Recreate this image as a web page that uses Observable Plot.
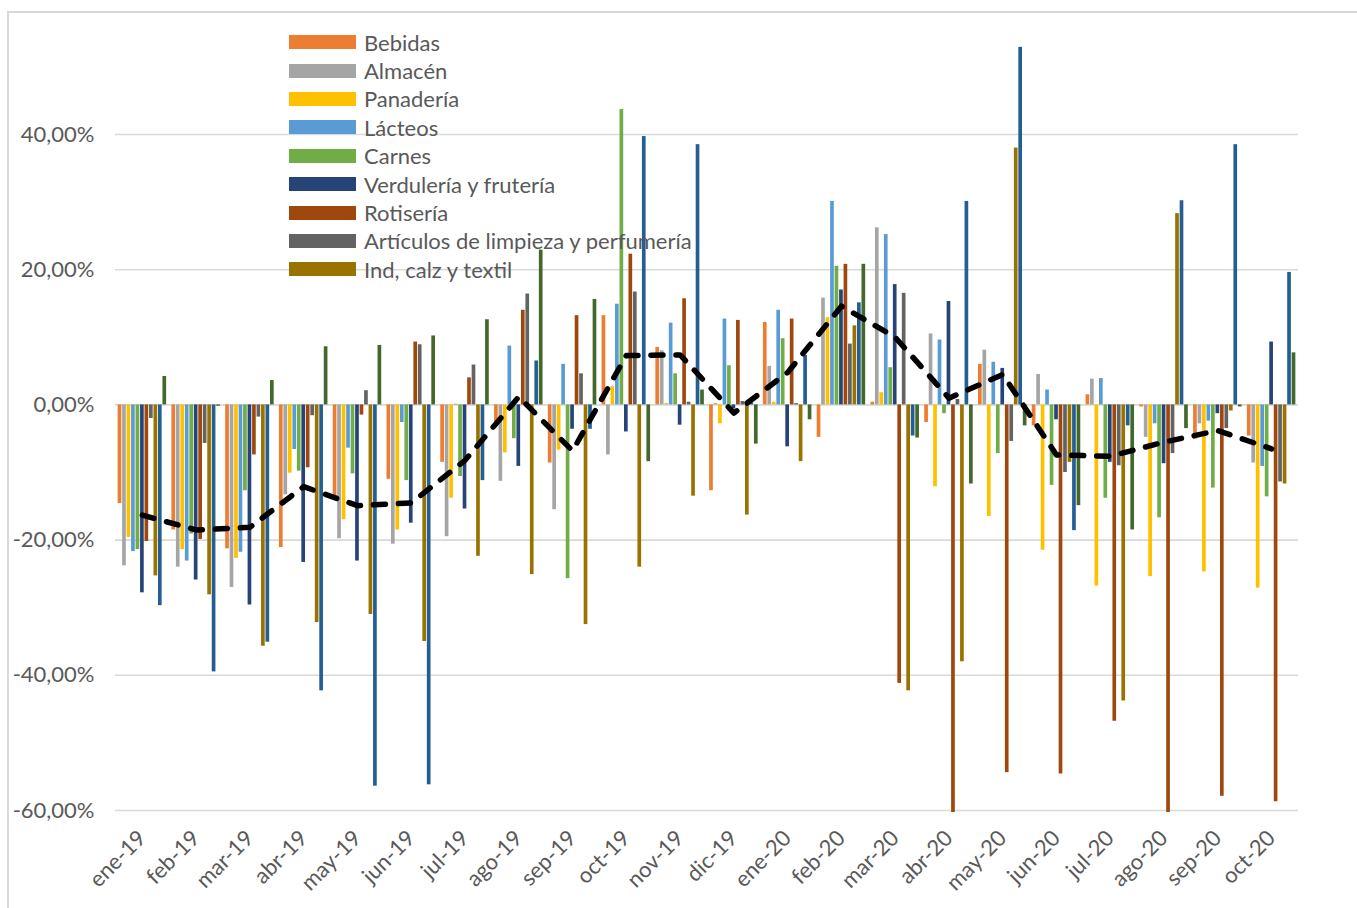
<!DOCTYPE html>
<html>
<head>
<meta charset="utf-8">
<script src="https://cdn.jsdelivr.net/npm/d3@7"></script>
<script src="https://cdn.jsdelivr.net/npm/@observablehq/plot@0.6"></script>
<style>
  body { margin: 0; background: #fff; font-family: Lato, "Open Sans", sans-serif; }
  #wrap { position: relative; width: 1357px; height: 908px; overflow: hidden; }
  #frame { position: absolute; left: 7px; top: 11px; right: -10px; bottom: -10px;
           border-left: 2px solid #d9d9d9; border-top: 2px solid #d9d9d9; }
  #chart { position: absolute; left: 0; top: 0; }
  #legend { position: absolute; left: 289px; top: 28px; }
  .item { display: flex; align-items: center; height: 28.4px; }
  .sw { width: 67px; height: 14px; margin-right: 8px; }
  .lab { font-size: 22px; color: #595959; white-space: nowrap; }
</style>
</head>
<body>
<div id="wrap"><div id="frame"></div><div id="chart"></div><div id="legend"></div></div>
<script>
// ---- data (percent values) ----
const months = ["ene-19","feb-19","mar-19","abr-19","may-19","jun-19","jul-19","ago-19","sep-19","oct-19","nov-19","dic-19",
                "ene-20","feb-20","mar-20","abr-20","may-20","jun-20","jul-20","ago-20","sep-20","oct-20"];
const seriesNames = ["Bebidas","Almacén","Panadería","Lácteos","Carnes","Verdulería y frutería","Rotisería",
                     "Artículos de limpieza y perfumería","Ind, calz y textil","Serie 10","Serie 11"];
const seriesColors = ["#ED7D31","#A5A5A5","#FFC000","#5B9BD5","#70AD47","#264478","#9E480E","#636363","#997300","#255E91","#43682B"];
const legendCount = 9;

const bebidas    = [-14.6,-18.5,-21.3,-21.1,-13.5,-11.0,-8.5,-2.6,-8.6,13.2,8.5,-12.7,12.2,-4.8,0.4,-2.6,6.0,-3.1,1.5,-0.3,-5.1,-4.6];
const almacen    = [-23.8,-24.0,-27.0,-13.3,-19.8,-20.6,-19.5,-11.3,-15.5,-7.4,8.0,0.2,5.7,15.8,26.2,10.5,8.1,4.5,3.8,-4.8,-2.8,-8.6];
const panaderia  = [-19.6,-21.4,-22.7,-10.1,-17.0,-18.5,-13.8,-7.1,-6.7,2.7,0.2,-2.8,0.4,12.9,1.8,-12.1,-16.5,-21.5,-26.8,-25.4,-24.7,-27.1];
const lacteos    = [-21.7,-23.1,-21.8,-6.6,-6.4,-2.6,0.1,8.7,6.0,14.9,12.1,12.7,14.0,30.1,25.2,9.6,6.3,2.2,3.9,-2.8,-2.4,-9.1];
const carnes     = [-21.4,-19.1,-12.7,-9.8,-10.2,-11.2,-10.6,-5.0,-25.7,43.7,4.6,5.8,9.8,20.5,5.5,-1.3,-7.2,-11.9,-13.8,-16.7,-12.3,-13.6];
const verduleria = [-27.8,-25.9,-29.6,-23.3,-23.1,-17.5,-15.4,-9.1,-3.6,-4.0,-3.0,-0.6,-6.2,17.0,17.8,15.3,5.4,-2.2,-8.5,-8.7,-1.3,9.3];
const rotiseria  = [-20.2,-19.9,-7.4,-9.3,-1.5,9.3,4.0,14.0,13.2,22.3,15.7,12.5,12.7,20.8,-41.2,-60.3,-54.4,-54.6,-46.8,-60.3,-57.9,-58.7];
const articulos  = [-2.0,-5.7,-1.8,-1.6,2.1,8.9,5.9,16.4,4.6,16.7,0.4,0.5,0.2,9.0,16.5,0.8,-5.4,-10.0,-9.0,-7.2,-3.5,-11.4];
const indCalz    = [-25.3,-28.1,-35.7,-32.2,-31.0,-35.0,-22.4,-25.1,-32.5,-24.0,-13.5,-16.3,-8.4,11.7,-42.3,-38.0,38.0,-8.5,-43.8,28.3,-0.9,-11.7];
const serie10    = [-29.7,-39.5,-35.1,-42.3,-56.4,-56.2,-11.2,6.5,-3.6,39.7,38.5,0.3,7.3,15.1,-4.6,30.1,52.9,-18.6,-3.1,30.2,38.5,19.6];
const serie11    = [4.2,-0.2,3.6,8.6,8.8,10.2,12.6,22.9,15.6,-8.4,2.2,-5.8,-2.2,20.8,-4.9,-11.7,-3.1,-14.9,-18.5,-3.5,-0.3,7.7];
const promedio   = [-16.3,-18.5,-18.1,-12.1,-14.9,-14.5,-8.2,1.2,-6.8,7.3,7.4,-1.2,4.8,14.6,10.0,1.0,4.5,-7.4,-7.6,-5.5,-3.8,-6.5];
const yTicks = [-0.6,-0.4,-0.2,0,0.2,0.4];

// ---- build tables ----
const seriesValues = [bebidas,almacen,panaderia,lacteos,carnes,verduleria,rotiseria,articulos,indCalz,serie10,serie11];
const rows = months.flatMap((m,i) => seriesNames.map((s,j) => ({month:m, serie:s, key:m+"|"+s, value:seriesValues[j][i]/100})));
const slots = months.flatMap((m,i) => [...seriesNames.map(s => m+"|"+s), ...(i < months.length-1 ? [m+"|gap"] : [])]);
const centerSerie = seriesNames[5];
const lineData = months.map((m,i) => ({key:m+"|"+centerSerie, value:promedio[i]/100}));
const locale = d3.formatLocale({decimal:",", thousands:".", grouping:[3], currency:["","€"], minus:"-"});
const pct = locale.format(".2%");

const chart = Plot.plot({
  width: 1357, height: 908,
  marginLeft: 115, marginRight: 59, marginTop: 12, marginBottom: 98,
  style: {fontFamily: "Lato, 'Open Sans', sans-serif", fontSize: "22px", color: "#595959", background: "transparent", overflow: "visible"},
  x: {type: "band", domain: slots, paddingInner: 0, paddingOuter: 0.5, ticks: lineData.map(d => d.key),
      tickFormat: k => k.split("|")[0], tickRotate: -45, tickSize: 0, tickPadding: 24, label: null},
  y: {domain: [-0.6, 0.5805], ticks: yTicks, tickFormat: pct, tickSize: 0, tickPadding: 21, label: null},
  color: {domain: seriesNames, range: seriesColors},
  marks: [
    Plot.ruleY(yTicks, {stroke: "#d9d9d9", strokeWidth: 1.6}),
    Plot.barY(rows, {x: "key", y1: 0, y2: "value", fill: "serie", insetLeft: 0.4, insetRight: 0.4}),
    Plot.line(lineData, {x: "key", y: "value", stroke: "#000", strokeWidth: 5.5, strokeDasharray: "12,13", strokeLinecap: "round"})
  ]
});
document.getElementById("chart").appendChild(chart);

// ---- legend (first nine series, as in the reference) ----
const legend = document.getElementById("legend");
seriesNames.slice(0, legendCount).forEach((s, j) => {
  const item = document.createElement("div");
  item.className = "item";
  item.innerHTML = `<span class="sw" style="background:${seriesColors[j]}"></span><span class="lab">${s}</span>`;
  legend.appendChild(item);
});
</script>
</body>
</html>
